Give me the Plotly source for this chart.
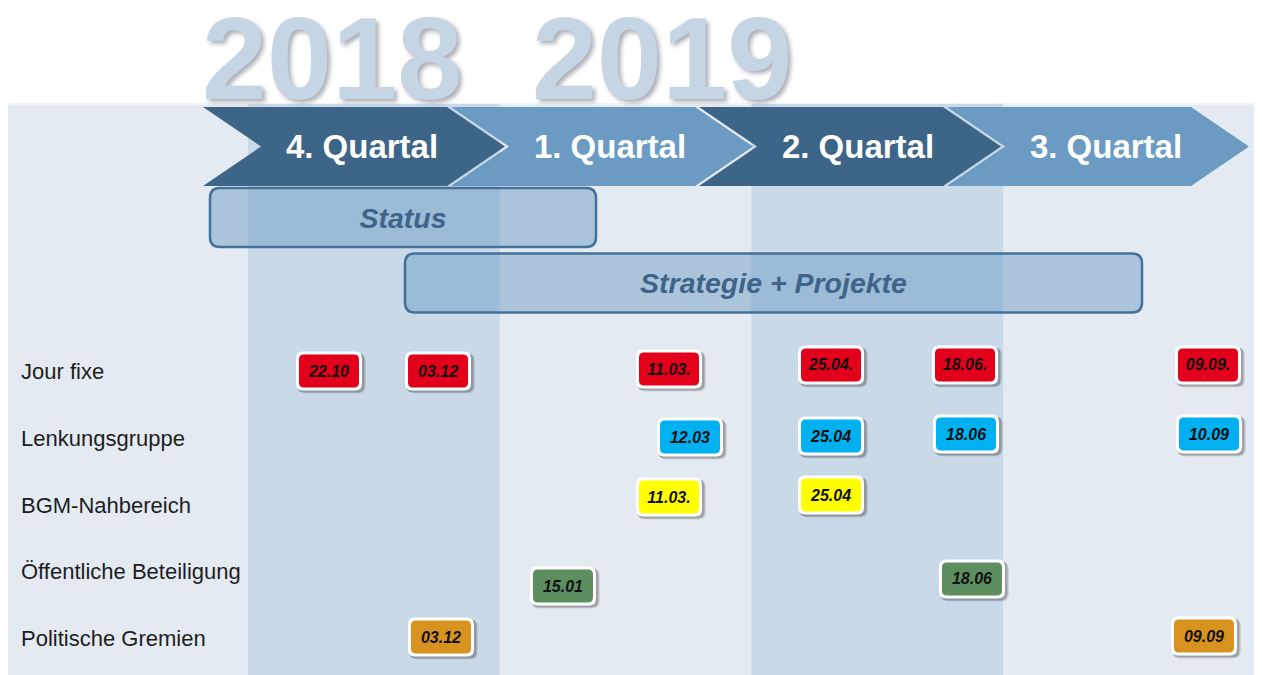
import plotly.graph_objects as go

# ---------------- data ----------------
# x values: months since 1 Oct 2018 (start of Q4 2018); y values: lane units
lanes = ["Jour fixe", "Lenkungsgruppe", "BGM-Nahbereich",
         "Öffentliche Beteiligung", "Politische Gremien"]
lane_colors = ["#e2001a", "#00b0f0", "#ffff00", "#5d8e5f", "#d8921f"]

jour_labels = ["22.10", "03.12", "11.03.", "25.04.", "18.06.", "09.09."]
jour_x = [0.965, 2.265, 5.018, 6.949, 8.546, 11.442]
jour_y = [-0.015, -0.015, -0.045, -0.105, -0.105, -0.105]

lenk_labels = ["12.03", "25.04", "18.06", "10.09"]
lenk_x = [5.268, 6.949, 8.558, 11.454]
lenk_y = [0.974, 0.959, 0.929, 0.929]

bgm_labels = ["11.03.", "25.04"]
bgm_x = [5.018, 6.949]
bgm_y = [1.873, 1.843]

oeff_labels = ["15.01", "18.06"]
oeff_x = [3.754, 8.629]
oeff_y = [3.206, 3.101]

pol_labels = ["03.12", "09.09"]
pol_x = [2.300, 11.394]
pol_y = [3.970, 3.955]

phases = ["Status", "Strategie + Projekte"]
phase_start = [-0.453, 1.871]
phase_end = [4.148, 10.656]
phase_y = [-2.315, -1.333]

quarters = ["4. Quartal", "1. Quartal", "2. Quartal", "3. Quartal"]
quarter_start = [0, 3, 6, 9]
years = ["2018", "2019"]
year_x = [1.0, 4.93]

# ---------------- layout constants ----------------
W, H = 1262, 675
PAGE = 8       # default body margin of the html page
PXM = 83.9     # pixels per month
PXR = 66.75    # pixels per lane
X0PX, Y0PX = 248, 372


def mx(px):
    return (px - X0PX) / PXM


def ry(py):
    return (py - Y0PX) / PXR


DARK = "#3c6588"
LIGHT = "#6b9bc3"
PANEL = "#e4eaf1"
BAND = "#c9d9e7"


def rrect(x0, y0, x1, y1, rx, ry_):
    return (f"M{x0+rx},{y0} L{x1-rx},{y0} Q{x1},{y0} {x1},{y0+ry_} "
            f"L{x1},{y1-ry_} Q{x1},{y1} {x1-rx},{y1} L{x0+rx},{y1} "
            f"Q{x0},{y1} {x0},{y1-ry_} L{x0},{y0+ry_} Q{x0},{y0} {x0+rx},{y0} Z")


shapes = []
# panel + right shadow
shapes.append(dict(type="rect", xref="x", yref="y", x0=mx(8), x1=mx(1254),
                   y0=ry(103), y1=ry(700), fillcolor=PANEL, line_width=0, layer="below"))
shapes.append(dict(type="rect", xref="x", yref="y", x0=mx(1254), x1=mx(1259),
                   y0=ry(106), y1=ry(700), fillcolor="#b4b9be", line_width=0, layer="below"))
shapes.append(dict(type="rect", xref="x", yref="y", x0=mx(8), x1=mx(1254),
                   y0=ry(103), y1=ry(105), fillcolor="#f0f3f7", line_width=0, layer="below"))
# darker quarter bands (Q4 2018, Q2 2019)
for i, qs in enumerate(quarter_start):
    if i % 2 == 0:
        shapes.append(dict(type="rect", xref="x", yref="y", x0=qs, x1=qs + 3,
                           y0=ry(104), y1=ry(700), fillcolor=BAND, line_width=0, layer="below"))

# chevrons
ct, cb = ry(107), ry(186)
cm = (ct + cb) / 2
for i, q in enumerate(quarters):
    x0 = 203 + 248 * i
    p = (f"M{mx(x0)},{ct} L{mx(x0+244)},{ct} L{mx(x0+302)},{cm} L{mx(x0+244)},{cb} "
         f"L{mx(x0)},{cb} L{mx(x0+58)},{cm} Z")
    shapes.append(dict(type="path", xref="x", yref="y", path=p,
                       fillcolor=DARK if i % 2 == 0 else LIGHT, line_width=0, layer="below"))

# phase bars
half = 29.5 / PXR
for s, e, yc in zip(phase_start, phase_end, phase_y):
    shapes.append(dict(type="path", xref="x", yref="y",
                       path=rrect(s, yc - half, e, yc + half, 10 / PXM, 10 / PXR),
                       fillcolor="rgba(100,150,195,0.45)",
                       line=dict(color="#44719a", width=2.5), layer="below"))

# badges
lane_data = [(jour_labels, jour_x, jour_y), (lenk_labels, lenk_x, lenk_y),
             (bgm_labels, bgm_x, bgm_y), (oeff_labels, oeff_x, oeff_y),
             (pol_labels, pol_x, pol_y)]
for (labs, xs, ys), col in zip(lane_data, lane_colors):
    for x, y in zip(xs, ys):
        common = dict(type="path", xref="x", yref="y", xsizemode="pixel", ysizemode="pixel",
                      xanchor=x, yanchor=y, line_width=0, layer="below")
        shapes.append(dict(common, path=rrect(-31, -22.5, 37, 17.5, 8, 8),
                           fillcolor="rgba(0,0,0,0.10)"))
        shapes.append(dict(common, path=rrect(-32, -21.5, 35.5, 18, 7, 7),
                           fillcolor="rgba(40,40,40,0.28)"))
        shapes.append(dict(common, path=rrect(-33, -19.5, 33, 19.5, 7, 7),
                           fillcolor="#ffffff"))
        shapes.append(dict(common, path=rrect(-30, -16.5, 30, 16.5, 5, 5),
                           fillcolor=col))

fig = go.Figure()
TXT_DY = 2.5 / PXR  # small downward nudge for centred texts

# row labels
fig.add_trace(go.Scatter(x=[mx(21)] * len(lanes), y=[i + 1.5 / PXR for i in range(len(lanes))],
                         mode="text", text=lanes, textposition="middle right",
                         textfont=dict(family="Liberation Sans, Arial, sans-serif",
                                       size=22, color="#1e1e1e"),
                         hoverinfo="skip", showlegend=False))

# badge texts
for labs, xs, ys in lane_data:
    fig.add_trace(go.Scatter(x=xs, y=[v + 1.5 / PXR for v in ys], mode="text", text=labs,
                             textposition="middle center",
                             textfont=dict(family="Liberation Sans, Arial",
                                           size=16, color="#111111", weight="bold", style="italic"),
                             hoverinfo="skip", showlegend=False))

# phase texts
fig.add_trace(go.Scatter(x=[(s + e) / 2 for s, e in zip(phase_start, phase_end)],
                         y=[v + 3 / PXR for v in phase_y], mode="text", text=phases,
                         textposition="middle center",
                         textfont=dict(family="Liberation Sans, Arial, sans-serif", size=28.5,
                                       color="#3f6488", weight="bold", style="italic"),
                         hoverinfo="skip", showlegend=False))

# quarter texts
fig.add_trace(go.Scatter(x=[mx(203 + 248 * i + 159) for i in range(len(quarters))],
                         y=[cm + 3 / PXR] * len(quarters), mode="text", text=quarters,
                         textposition="middle center",
                         textfont=dict(family="Liberation Sans, Arial, sans-serif", size=33,
                                       color="#ffffff", weight="bold"),
                         hoverinfo="skip", showlegend=False))

# big year labels (with soft shadow)
annotations = []
for yr, x in zip(years, year_x):
    annotations.append(dict(x=x, y=ry(58), xref="x", yref="y", text=yr,
                            showarrow=False, xanchor="center", yanchor="middle",
                            font=dict(family="Liberation Sans, Arial", size=117,
                                      color="#c6d5e4", weight="bold",
                                      shadow="3px 3px 4px rgba(70,80,95,0.45)")))

fig.update_layout(
    width=W, height=H, margin=dict(l=0, r=0, t=0, b=0),
    paper_bgcolor="#ffffff", plot_bgcolor="#ffffff",
    xaxis=dict(range=[mx(PAGE), mx(PAGE + W)], visible=False, fixedrange=True),
    yaxis=dict(range=[ry(PAGE + H), ry(PAGE)], visible=False, fixedrange=True),
    shapes=shapes, annotations=annotations, showlegend=False,
)

fig.write_html("out.html")
